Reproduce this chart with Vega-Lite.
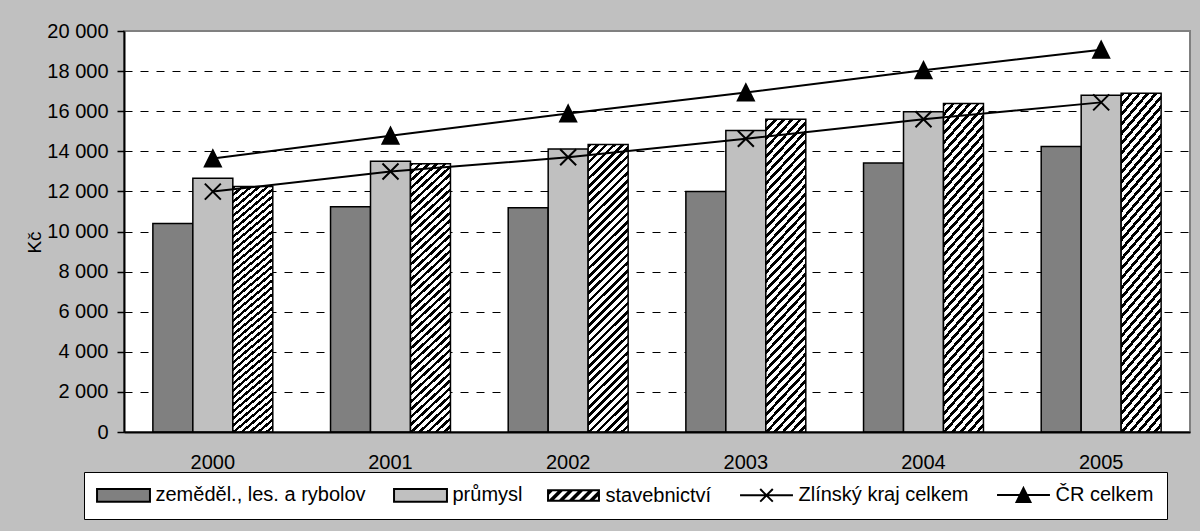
{
  "$schema": "https://vega.github.io/schema/vega-lite/v6.json",
  "width": 1066,
  "height": 401,
  "autosize": {"type": "none"},
  "padding": {"left": 124, "top": 31, "right": 10, "bottom": 99},
  "background": "#C0C0C0",
  "config": {
    "font": "Liberation Sans",
    "view": {"fill": "white", "stroke": "#808080", "strokeWidth": 2}
  },
  "data": {
    "values": [
      {"year": "2000", "series": "zeměděl., les. a rybolov", "value": 10400},
      {"year": "2000", "series": "průmysl", "value": 12660},
      {"year": "2000", "series": "stavebnictví", "value": 12240},
      {"year": "2000", "series": "Zlínský kraj celkem", "value": 11990},
      {"year": "2000", "series": "ČR celkem", "value": 13640},
      {"year": "2001", "series": "zeměděl., les. a rybolov", "value": 11230},
      {"year": "2001", "series": "průmysl", "value": 13500},
      {"year": "2001", "series": "stavebnictví", "value": 13380},
      {"year": "2001", "series": "Zlínský kraj celkem", "value": 12990},
      {"year": "2001", "series": "ČR celkem", "value": 14780},
      {"year": "2002", "series": "zeměděl., les. a rybolov", "value": 11180},
      {"year": "2002", "series": "průmysl", "value": 14120},
      {"year": "2002", "series": "stavebnictví", "value": 14340},
      {"year": "2002", "series": "Zlínský kraj celkem", "value": 13700},
      {"year": "2002", "series": "ČR celkem", "value": 15880},
      {"year": "2003", "series": "zeměděl., les. a rybolov", "value": 11990},
      {"year": "2003", "series": "průmysl", "value": 15040},
      {"year": "2003", "series": "stavebnictví", "value": 15600},
      {"year": "2003", "series": "Zlínský kraj celkem", "value": 14630},
      {"year": "2003", "series": "ČR celkem", "value": 16930},
      {"year": "2004", "series": "zeměděl., les. a rybolov", "value": 13420},
      {"year": "2004", "series": "průmysl", "value": 15970},
      {"year": "2004", "series": "stavebnictví", "value": 16390},
      {"year": "2004", "series": "Zlínský kraj celkem", "value": 15600},
      {"year": "2004", "series": "ČR celkem", "value": 18040},
      {"year": "2005", "series": "zeměděl., les. a rybolov", "value": 14240},
      {"year": "2005", "series": "průmysl", "value": 16800},
      {"year": "2005", "series": "stavebnictví", "value": 16890},
      {"year": "2005", "series": "Zlínský kraj celkem", "value": 16440},
      {"year": "2005", "series": "ČR celkem", "value": 19070}
    ]
  },
  "encoding": {
    "x": {
      "field": "year", "type": "ordinal",
      "scale": {"paddingInner": 0.325, "paddingOuter": 0.1625},
      "axis": {"title": null, "labelAngle": 0, "labelFontSize": 20, "labelColor": "black", "labelPadding": 20, "ticks": false, "tickSize": 0, "domainColor": "black", "domainWidth": 2, "grid": false, "zindex": 1}
    },
    "y": {
      "field": "value", "type": "quantitative",
      "scale": {"domain": [0, 20000], "nice": false, "zero": true},
      "axis": {
        "title": "Kč", "titleFontSize": 19, "titleFontWeight": "normal", "titleColor": "black", "titlePadding": 2, "titleY": 211,
        "values": [0, 2000, 4000, 6000, 8000, 10000, 12000, 14000, 16000, 18000, 20000],
        "labelExpr": "replace(format(datum.value, ','), ',', ' ')",
        "labelFontSize": 20, "labelColor": "black", "labelPadding": 9,
        "tickSize": 7, "tickColor": "black", "tickWidth": 1.5,
        "domainColor": "black", "domainWidth": 2,
        "grid": true, "gridColor": "black", "gridDash": [8, 8], "gridWidth": 1,
        "gridOpacity": {"condition": {"test": "datum.value >= 20000", "value": 0}, "value": 1}
      }
    }
  },
  "layer": [
    {
      "transform": [{"filter": {"field": "series", "oneOf": ["zeměděl., les. a rybolov", "průmysl"]}}],
      "mark": {"type": "bar", "stroke": "black", "strokeWidth": 1.5},
      "encoding": {
        "xOffset": {"field": "series", "type": "nominal", "scale": {"domain": ["zeměděl., les. a rybolov", "průmysl", "stavebnictví"], "paddingInner": 0, "paddingOuter": 0}},
        "fill": {
          "field": "series", "type": "nominal",
          "scale": {"domain": ["zeměděl., les. a rybolov", "průmysl", "stavebnictví", "Zlínský kraj celkem", "ČR celkem"], "range": ["#808080", "#C0C0C0", "#000000", "#000000", "#000000"]},
          "legend": {
            "title": null, "orient": "none", "legendX": -40, "legendY": 441,
            "direction": "horizontal", "columns": 5,
            "fillColor": "white", "strokeColor": "black", "padding": 13,
            "labelFontSize": 20, "labelColor": "black", "labelLimit": 0, "labelOffset": 22,
            "columnPadding": 24, "symbolSize": 158.76, "symbolStrokeWidth": 2, "symbolOffset": 16.5,
            "symbolStrokeColor": "black",
            "encode": {
              "symbols": {
                "update": {
                  "shape": {"signal": "datum.value === 'Zlínský kraj celkem' ? 'M-4.2,0H4.2M-1,-1L1,1M-1,1L1,-1' : datum.value === 'ČR celkem' ? 'M-4.2,0H4.2M0,-1.1L1.1,1.1H-1.1Z' : datum.value === 'stavebnictví' ? 'M-4.2,-1H4.2V1H-4.2ZM-3.88,-0.68V0.68H3.88V-0.68ZM-3.88,0.68H-3.08L-1.72,-0.68H-2.52ZM-2.28,0.68H-1.48L-0.12,-0.68H-0.92ZM-0.68,0.68H0.12L1.48,-0.68H0.68ZM0.92,0.68H1.72L3.08,-0.68H2.28ZM-3.88,-0.68H-3.32L-3.88,-0.12ZM2.52,0.68H3.32L3.88,0.12V-0.68Z' : 'M-4.2,-1H4.2V1H-4.2Z'"},
                  "stroke": {"value": "black"},
                  "strokeWidth": {"signal": "datum.value === 'stavebnictví' ? 0 : 2"},
                  "opacity": {"value": 1},
                  "fill": {"signal": "datum.value === 'zeměděl., les. a rybolov' ? '#808080' : datum.value === 'průmysl' ? '#C0C0C0' : datum.value === 'Zlínský kraj celkem' ? 'transparent' : '#000000'"}
                }
              }
            }
          }
        }
      }
    },
    {
      "transform": [{"filter": {"field": "series", "equal": "stavebnictví"}}],
      "mark": {
        "type": "bar", "stroke": "black", "strokeWidth": 1.5,
        "fill": {"gradient": "linear", "x1": 0, "y1": 0, "x2": 0.154, "y2": 1.117, "stops": [
          {"offset": 0, "color": "#000"}, {"offset": 0.011, "color": "#000"}, {"offset": 0.011, "color": "#fff"}, {"offset": 0.025, "color": "#fff"},
          {"offset": 0.025, "color": "#000"}, {"offset": 0.036, "color": "#000"}, {"offset": 0.036, "color": "#fff"}, {"offset": 0.05, "color": "#fff"},
          {"offset": 0.05, "color": "#000"}, {"offset": 0.061, "color": "#000"}, {"offset": 0.061, "color": "#fff"}, {"offset": 0.075, "color": "#fff"},
          {"offset": 0.075, "color": "#000"}, {"offset": 0.086, "color": "#000"}, {"offset": 0.086, "color": "#fff"}, {"offset": 0.1, "color": "#fff"},
          {"offset": 0.1, "color": "#000"}, {"offset": 0.111, "color": "#000"}, {"offset": 0.111, "color": "#fff"}, {"offset": 0.125, "color": "#fff"},
          {"offset": 0.125, "color": "#000"}, {"offset": 0.136, "color": "#000"}, {"offset": 0.136, "color": "#fff"}, {"offset": 0.15, "color": "#fff"},
          {"offset": 0.15, "color": "#000"}, {"offset": 0.161, "color": "#000"}, {"offset": 0.161, "color": "#fff"}, {"offset": 0.175, "color": "#fff"},
          {"offset": 0.175, "color": "#000"}, {"offset": 0.186, "color": "#000"}, {"offset": 0.186, "color": "#fff"}, {"offset": 0.2, "color": "#fff"},
          {"offset": 0.2, "color": "#000"}, {"offset": 0.211, "color": "#000"}, {"offset": 0.211, "color": "#fff"}, {"offset": 0.225, "color": "#fff"},
          {"offset": 0.225, "color": "#000"}, {"offset": 0.236, "color": "#000"}, {"offset": 0.236, "color": "#fff"}, {"offset": 0.25, "color": "#fff"},
          {"offset": 0.25, "color": "#000"}, {"offset": 0.261, "color": "#000"}, {"offset": 0.261, "color": "#fff"}, {"offset": 0.275, "color": "#fff"},
          {"offset": 0.275, "color": "#000"}, {"offset": 0.286, "color": "#000"}, {"offset": 0.286, "color": "#fff"}, {"offset": 0.3, "color": "#fff"},
          {"offset": 0.3, "color": "#000"}, {"offset": 0.311, "color": "#000"}, {"offset": 0.311, "color": "#fff"}, {"offset": 0.325, "color": "#fff"},
          {"offset": 0.325, "color": "#000"}, {"offset": 0.336, "color": "#000"}, {"offset": 0.336, "color": "#fff"}, {"offset": 0.35, "color": "#fff"},
          {"offset": 0.35, "color": "#000"}, {"offset": 0.361, "color": "#000"}, {"offset": 0.361, "color": "#fff"}, {"offset": 0.375, "color": "#fff"},
          {"offset": 0.375, "color": "#000"}, {"offset": 0.386, "color": "#000"}, {"offset": 0.386, "color": "#fff"}, {"offset": 0.4, "color": "#fff"},
          {"offset": 0.4, "color": "#000"}, {"offset": 0.411, "color": "#000"}, {"offset": 0.411, "color": "#fff"}, {"offset": 0.425, "color": "#fff"},
          {"offset": 0.425, "color": "#000"}, {"offset": 0.436, "color": "#000"}, {"offset": 0.436, "color": "#fff"}, {"offset": 0.45, "color": "#fff"},
          {"offset": 0.45, "color": "#000"}, {"offset": 0.461, "color": "#000"}, {"offset": 0.461, "color": "#fff"}, {"offset": 0.475, "color": "#fff"},
          {"offset": 0.475, "color": "#000"}, {"offset": 0.486, "color": "#000"}, {"offset": 0.486, "color": "#fff"}, {"offset": 0.5, "color": "#fff"},
          {"offset": 0.5, "color": "#000"}, {"offset": 0.511, "color": "#000"}, {"offset": 0.511, "color": "#fff"}, {"offset": 0.525, "color": "#fff"},
          {"offset": 0.525, "color": "#000"}, {"offset": 0.536, "color": "#000"}, {"offset": 0.536, "color": "#fff"}, {"offset": 0.55, "color": "#fff"},
          {"offset": 0.55, "color": "#000"}, {"offset": 0.561, "color": "#000"}, {"offset": 0.561, "color": "#fff"}, {"offset": 0.575, "color": "#fff"},
          {"offset": 0.575, "color": "#000"}, {"offset": 0.586, "color": "#000"}, {"offset": 0.586, "color": "#fff"}, {"offset": 0.6, "color": "#fff"},
          {"offset": 0.6, "color": "#000"}, {"offset": 0.611, "color": "#000"}, {"offset": 0.611, "color": "#fff"}, {"offset": 0.625, "color": "#fff"},
          {"offset": 0.625, "color": "#000"}, {"offset": 0.636, "color": "#000"}, {"offset": 0.636, "color": "#fff"}, {"offset": 0.65, "color": "#fff"},
          {"offset": 0.65, "color": "#000"}, {"offset": 0.661, "color": "#000"}, {"offset": 0.661, "color": "#fff"}, {"offset": 0.675, "color": "#fff"},
          {"offset": 0.675, "color": "#000"}, {"offset": 0.686, "color": "#000"}, {"offset": 0.686, "color": "#fff"}, {"offset": 0.7, "color": "#fff"},
          {"offset": 0.7, "color": "#000"}, {"offset": 0.711, "color": "#000"}, {"offset": 0.711, "color": "#fff"}, {"offset": 0.725, "color": "#fff"},
          {"offset": 0.725, "color": "#000"}, {"offset": 0.736, "color": "#000"}, {"offset": 0.736, "color": "#fff"}, {"offset": 0.75, "color": "#fff"},
          {"offset": 0.75, "color": "#000"}, {"offset": 0.761, "color": "#000"}, {"offset": 0.761, "color": "#fff"}, {"offset": 0.775, "color": "#fff"},
          {"offset": 0.775, "color": "#000"}, {"offset": 0.786, "color": "#000"}, {"offset": 0.786, "color": "#fff"}, {"offset": 0.8, "color": "#fff"},
          {"offset": 0.8, "color": "#000"}, {"offset": 0.811, "color": "#000"}, {"offset": 0.811, "color": "#fff"}, {"offset": 0.825, "color": "#fff"},
          {"offset": 0.825, "color": "#000"}, {"offset": 0.836, "color": "#000"}, {"offset": 0.836, "color": "#fff"}, {"offset": 0.85, "color": "#fff"},
          {"offset": 0.85, "color": "#000"}, {"offset": 0.861, "color": "#000"}, {"offset": 0.861, "color": "#fff"}, {"offset": 0.875, "color": "#fff"},
          {"offset": 0.875, "color": "#000"}, {"offset": 0.886, "color": "#000"}, {"offset": 0.886, "color": "#fff"}, {"offset": 0.9, "color": "#fff"},
          {"offset": 0.9, "color": "#000"}, {"offset": 0.911, "color": "#000"}, {"offset": 0.911, "color": "#fff"}, {"offset": 0.925, "color": "#fff"},
          {"offset": 0.925, "color": "#000"}, {"offset": 0.936, "color": "#000"}, {"offset": 0.936, "color": "#fff"}, {"offset": 0.95, "color": "#fff"},
          {"offset": 0.95, "color": "#000"}, {"offset": 0.961, "color": "#000"}, {"offset": 0.961, "color": "#fff"}, {"offset": 0.975, "color": "#fff"},
          {"offset": 0.975, "color": "#000"}, {"offset": 0.986, "color": "#000"}, {"offset": 0.986, "color": "#fff"}, {"offset": 1, "color": "#fff"}
        ]}
      },
      "encoding": {
        "xOffset": {"field": "series", "type": "nominal"}
      }
    },
    {
      "transform": [{"filter": {"field": "series", "oneOf": ["Zlínský kraj celkem", "ČR celkem"]}}],
      "mark": {"type": "line", "color": "black", "strokeWidth": 2},
      "encoding": {
        "detail": {"field": "series", "type": "nominal"}
      }
    },
    {
      "transform": [{"filter": {"field": "series", "oneOf": ["Zlínský kraj celkem", "ČR celkem"]}}],
      "mark": {"type": "point", "filled": true, "fill": "black", "stroke": "black", "strokeWidth": 2, "size": 256, "opacity": 1},
      "encoding": {
        "shape": {
          "field": "series", "type": "nominal",
          "scale": {"domain": ["Zlínský kraj celkem", "ČR celkem"], "range": ["M-1,-1L1,1M-1,1L1,-1", "M0,-1L1,1L-1,1Z"]},
          "legend": null
        }
      }
    }
  ]
}
